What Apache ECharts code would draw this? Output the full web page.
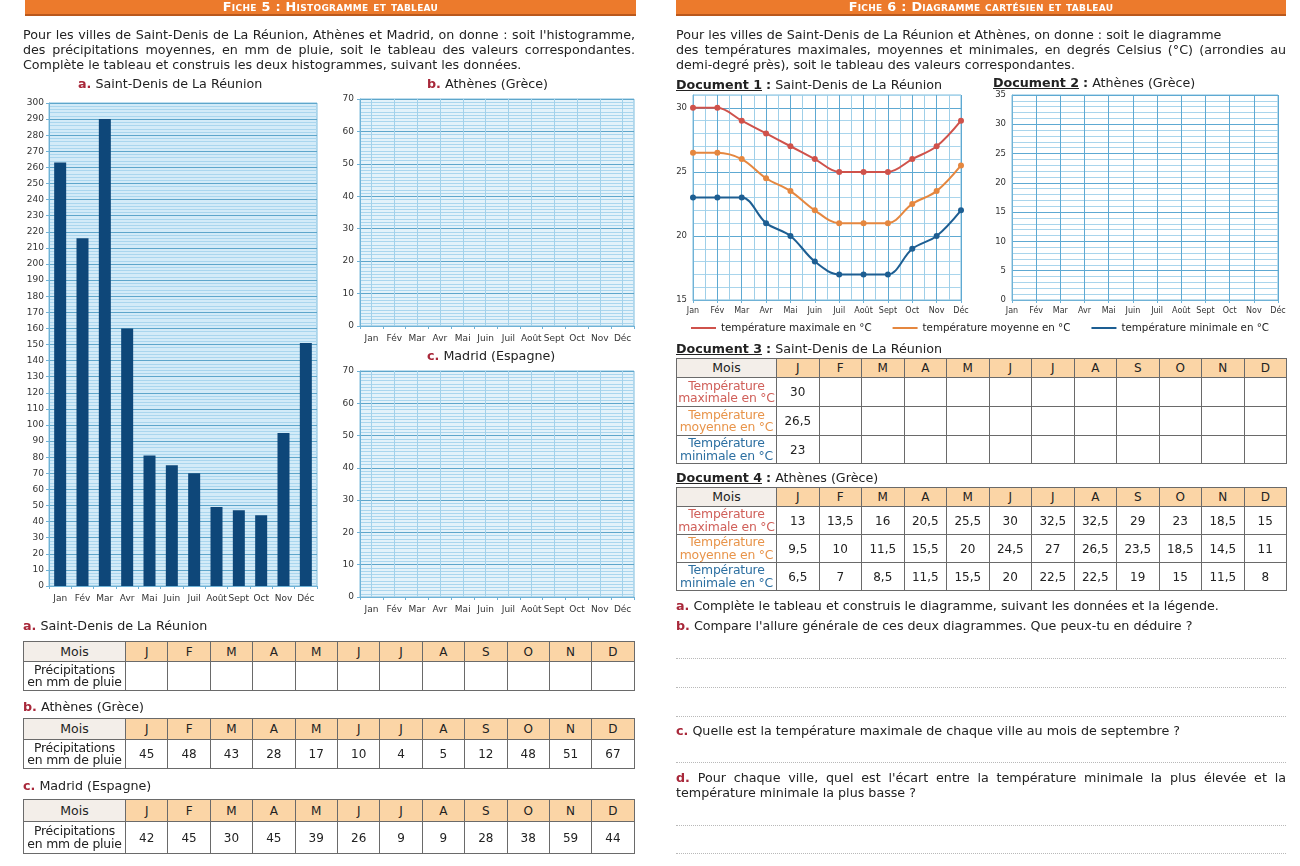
<!DOCTYPE html>
<html lang="fr">
<head>
<meta charset="utf-8">
<script src="https://cdn.jsdelivr.net/npm/echarts@6/dist/echarts.min.js"></script>
<style>
  html,body{margin:0;padding:0;background:#fff;}
  body{width:1300px;height:866px;position:relative;overflow:hidden;font-family:"DejaVu Sans",sans-serif;color:#222;}
  #chart{position:absolute;left:0;top:0;width:1300px;height:866px;}
  .ov{position:absolute;white-space:nowrap;font-size:12.7px;line-height:15px;pointer-events:none;}
  .band{position:absolute;top:0;height:14px;background:#ec7a2c;box-shadow:0 2px 0 #b9581c;color:#fff;font-weight:bold;font-variant:small-caps;font-size:12.8px;line-height:14px;text-align:center;letter-spacing:0.3px;font-family:"DejaVu Sans",sans-serif;}
  .just{text-align:justify;text-align-last:justify;}
  .lt{color:#a8283a;font-weight:bold;}
  .doc{font-weight:bold;text-decoration:underline;}
  table.t{position:absolute;border-collapse:collapse;table-layout:fixed;font-size:12px;font-family:"DejaVu Sans",sans-serif;}
  table.t td{border:1px solid #6a6a6a;text-align:center;vertical-align:middle;padding:0;line-height:12px;color:#222;}
  table.t td.h{background:#fbd5a6;}
  table.t td.m{background:#f3eee9;font-size:12.5px;}
  table.t td.lab{background:#fff;font-size:12.4px;line-height:12.5px;letter-spacing:-0.2px;overflow:hidden;white-space:nowrap;}
  .dots{position:absolute;height:0;border-top:1px dotted #b9b9b9;}
</style>
</head>
<body>
<div id="chart"></div>
<div id="overlay"></div>
<script>
// ---------- DATA ----------
const months = ['Jan','Fév','Mar','Avr','Mai','Juin','Juil','Août','Sept','Oct','Nov','Déc'];
const monthLetters = ['J','F','M','A','M','J','J','A','S','O','N','D'];
const rainSaintDenis = [263,216,290,160,81,75,70,49,47,44,95,151];
const rainAthenes = [45,48,43,28,17,10,4,5,12,48,51,67];
const rainMadrid = [42,45,30,45,39,26,9,9,28,38,59,44];
const tMaxSaintDenis = [30,30,29,28,27,26,25,25,25,26,27,29];
const tMoySaintDenis = [26.5,26.5,26,24.5,23.5,22,21,21,21,22.5,23.5,25.5];
const tMinSaintDenis = [23,23,23,21,20,18,17,17,17,19,20,22];
const tMaxAthenes = [13,13.5,16,20.5,25.5,30,32.5,32.5,29,23,18.5,15];
const tMoyAthenes = [9.5,10,11.5,15.5,20,24.5,27,26.5,23.5,18.5,14.5,11];
const tMinAthenes = [6.5,7,8.5,11.5,15.5,20,22.5,22.5,19,15,11.5,8];
const seriesNames = ['température maximale en °C','température moyenne en °C','température minimale en °C'];
const seriesColors = ['#cf524b','#e5873f','#1d5e92'];

// ---------- CHART ----------
const FONT = 'DejaVu Sans';
const lab = (extra) => Object.assign({fontFamily:FONT,fontSize:9,color:'#333'}, extra||{});
const MAJ = '#5ea6cb', MIN = '#aad6ee';
const hiddenAx = {axisLine:{show:false},axisTick:{show:false},axisLabel:{show:false}};

function catAxis(grid, extra){
  return Object.assign({type:'category',gridIndex:grid,data:months,boundaryGap:true,
    axisLine:{lineStyle:{color:'#6fb2d6'}},axisTick:{show:true,length:3,lineStyle:{color:'#6fb2d6'}},
    axisLabel:lab({margin:8,interval:0}),splitLine:{show:false}}, extra||{});
}
const option = {
  animation:false,
  textStyle:{fontFamily:FONT},
  grid:[
    {left:49,top:103,width:268,height:483,show:true,backgroundColor:'#d3ebf8',borderColor:'#7fbcdc',borderWidth:1},
    {left:360,top:99,width:274,height:227,show:true,backgroundColor:'#e3f2fa',borderColor:'#7fbcdc',borderWidth:1},
    {left:360,top:371,width:274,height:226,show:true,backgroundColor:'#e3f2fa',borderColor:'#7fbcdc',borderWidth:1},
    {left:693,top:95,width:268,height:205,show:true,backgroundColor:'#fff',borderColor:'#7fbcdc',borderWidth:1},
    {left:1012,top:95,width:266,height:205,show:true,backgroundColor:'#fff',borderColor:'#7fbcdc',borderWidth:1}
  ],
  xAxis:[
    catAxis(0),
    catAxis(1),
    Object.assign({type:'value',gridIndex:1,min:0,max:24,interval:1,position:'top',
      splitLine:{show:true,lineStyle:{color:['rgba(0,0,0,0)','#a2d1ea'],width:1}}},hiddenAx),
    catAxis(2),
    Object.assign({type:'value',gridIndex:2,min:0,max:24,interval:1,position:'top',
      splitLine:{show:true,lineStyle:{color:['rgba(0,0,0,0)','#a2d1ea'],width:1}}},hiddenAx),
    catAxis(3,{boundaryGap:false,axisLabel:lab({margin:7,fontSize:8}),splitLine:{show:true,lineStyle:{color:'#5ea9d2'}}}),
    Object.assign({type:'value',gridIndex:3,min:0,max:22,interval:1,position:'top',
      splitLine:{show:true,lineStyle:{color:['rgba(0,0,0,0)','#9fcfe8'],width:1}}},hiddenAx),
    catAxis(4,{boundaryGap:false,axisLabel:lab({margin:7,fontSize:8}),splitLine:{show:true,lineStyle:{color:'#5ea9d2'}}})
  ],
  yAxis:[
    {type:'value',gridIndex:0,min:0,max:300,interval:10,axisLine:{show:true,lineStyle:{color:'#6fb2d6'}},
      axisTick:{show:true,length:3,lineStyle:{color:'#6fb2d6'}},axisLabel:lab({margin:5}),
      splitLine:{lineStyle:{color:MAJ}},minorTick:{show:false,splitNumber:5},minorSplitLine:{show:true,lineStyle:{color:MIN}}},
    {type:'value',gridIndex:1,min:0,max:70,interval:10,axisLine:{show:true,lineStyle:{color:'#6fb2d6'}},
      axisTick:{show:true,length:3,lineStyle:{color:'#6fb2d6'}},axisLabel:lab({margin:6}),
      splitLine:{lineStyle:{color:MAJ}},minorTick:{show:false,splitNumber:10},minorSplitLine:{show:true,lineStyle:{color:MIN}}},
    {type:'value',gridIndex:2,min:0,max:70,interval:10,axisLine:{show:true,lineStyle:{color:'#6fb2d6'}},
      axisTick:{show:true,length:3,lineStyle:{color:'#6fb2d6'}},axisLabel:lab({margin:6}),
      splitLine:{lineStyle:{color:MAJ}},minorTick:{show:false,splitNumber:10},minorSplitLine:{show:true,lineStyle:{color:MIN}}},
    {type:'value',gridIndex:3,min:15,max:31,interval:1,axisLine:{show:true,lineStyle:{color:'#6fb2d6'}},
      axisTick:{show:false},axisLabel:lab({margin:6,fontSize:8.5,formatter:v=>v%5===0?String(v):''}),
      splitLine:{lineStyle:{color:['#5ea9d2','#a9d5ec','#a9d5ec','#a9d5ec','#a9d5ec']}}},
    {type:'value',gridIndex:4,min:0,max:35,interval:1,axisLine:{show:true,lineStyle:{color:'#6fb2d6'}},
      axisTick:{show:false},axisLabel:lab({margin:6,fontSize:8.5,formatter:v=>v%5===0?String(v):''}),
      splitLine:{lineStyle:{color:['#5ea9d2','#a9d5ec','#a9d5ec','#a9d5ec','#a9d5ec']}}}
  ],
  legend:{left:686,top:318,icon:'rect',itemWidth:25,itemHeight:2,itemGap:21,
    textStyle:{fontFamily:FONT,fontSize:10.3,color:'#222'},data:seriesNames},
  series:[
    {type:'bar',xAxisIndex:0,yAxisIndex:0,data:rainSaintDenis,barWidth:12,itemStyle:{color:'#0e4779'}},
    ...[tMaxSaintDenis,tMoySaintDenis,tMinSaintDenis].map((d,i)=>({
      type:'line',name:seriesNames[i],xAxisIndex:5,yAxisIndex:3,data:d,smooth:0.35,
      symbol:'circle',symbolSize:6,lineStyle:{width:2,color:seriesColors[i]},itemStyle:{color:seriesColors[i]}
    }))
  ]
};
echarts.init(document.getElementById('chart'),null,{renderer:'canvas'}).setOption(option);

// ---------- TEXT & TABLES ----------
const ov = document.getElementById('overlay');
function add(html){ov.insertAdjacentHTML('beforeend',html);}
const fr = v => String(v).replace('.',',');

add('<div class="band" style="left:25px;width:611px;">Fiche 5 : Histogramme et tableau</div>');
add('<div class="band" style="left:676px;width:610px;">Fiche 6 : Diagramme cartésien et tableau</div>');

add('<div class="ov just" style="left:23px;top:27px;width:612px;">Pour les villes de Saint-Denis de La Réunion, Athènes et Madrid, on donne : soit l\'histogramme,</div>');
add('<div class="ov just" style="left:23px;top:42px;width:612px;">des précipitations moyennes, en mm de pluie, soit le tableau des valeurs correspondantes.</div>');
add('<div class="ov" style="left:23px;top:57px;">Complète le tableau et construis les deux histogrammes, suivant les données.</div>');

add('<div class="ov" style="left:676px;top:27px;">Pour les villes de Saint-Denis de La Réunion et Athènes, on donne : soit le diagramme</div>');
add('<div class="ov just" style="left:676px;top:42px;width:610px;">des températures maximales, moyennes et minimales, en degrés Celsius (°C) (arrondies au</div>');
add('<div class="ov" style="left:676px;top:57px;">demi-degré près), soit le tableau des valeurs correspondantes.</div>');

add('<div class="ov" style="left:78px;top:76px;"><span class="lt">a.</span> Saint-Denis de La Réunion</div>');
add('<div class="ov" style="left:427px;top:76px;"><span class="lt">b.</span> Athènes (Grèce)</div>');
add('<div class="ov" style="left:427px;top:348px;"><span class="lt">c.</span> Madrid (Espagne)</div>');

add('<div class="ov" style="left:676px;top:77px;"><span class="doc">Document 1</span> <b>:</b> Saint-Denis de La Réunion</div>');
add('<div class="ov" style="left:993px;top:75px;"><span class="doc">Document 2</span> <b>:</b> Athènes (Grèce)</div>');
add('<div class="ov" style="left:676px;top:341px;"><span class="doc">Document 3</span> <b>:</b> Saint-Denis de La Réunion</div>');
add('<div class="ov" style="left:676px;top:470px;"><span class="doc">Document 4</span> <b>:</b> Athènes (Grèce)</div>');

function table(left, top, firstW, colW, heights, rows){
  let h = `<table class="t" style="left:${left}px;top:${top}px;width:${firstW+12*colW}px;"><colgroup><col style="width:${firstW}px">`;
  for(let i=0;i<12;i++) h += `<col style="width:${colW}px">`;
  h += '</colgroup><tr style="height:'+heights[0]+'px"><td class="m">Mois</td>';
  monthLetters.forEach(l=>{h += `<td class="h">${l}</td>`;});
  h += '</tr>';
  rows.forEach((r,ri)=>{
    h += `<tr style="height:${heights[ri+1]}px"><td class="lab" style="color:${r.color||'#222'}">${r.label}</td>`;
    for(let i=0;i<12;i++){const v=r.values[i]; h += `<td>${v===null||v===undefined?'':fr(v)}</td>`;}
    h += '</tr>';
  });
  h += '</table>';
  add(h);
}
const precipLabel = 'Précipitations<br>en mm de pluie';
add('<div class="ov" style="left:23px;top:618px;"><span class="lt">a.</span> Saint-Denis de La Réunion</div>');
table(23,641,102,42.4,[20,29],[{label:precipLabel,values:[]}]);
add('<div class="ov" style="left:23px;top:699px;"><span class="lt">b.</span> Athènes (Grèce)</div>');
table(23,718,102,42.4,[21,29],[{label:precipLabel,values:rainAthenes}]);
add('<div class="ov" style="left:23px;top:778px;"><span class="lt">c.</span> Madrid (Espagne)</div>');
table(23,799,102,42.4,[22,32],[{label:precipLabel,values:rainMadrid}]);

const rowLabels = ['Température<br>maximale en °C','Température<br>moyenne en °C','Température<br>minimale en °C'];
const rowColors = ['#d0605a','#e8944a','#2c6fa1'];
table(676,358,100,42.5,[19,29,29,28],[
  {label:rowLabels[0],color:rowColors[0],values:[tMaxSaintDenis[0]]},
  {label:rowLabels[1],color:rowColors[1],values:[tMoySaintDenis[0]]},
  {label:rowLabels[2],color:rowColors[2],values:[tMinSaintDenis[0]]}
]);
table(676,487,100,42.5,[19,28,28,28],[
  {label:rowLabels[0],color:rowColors[0],values:tMaxAthenes},
  {label:rowLabels[1],color:rowColors[1],values:tMoyAthenes},
  {label:rowLabels[2],color:rowColors[2],values:tMinAthenes}
]);

add('<div class="ov" style="left:676px;top:598px;"><span class="lt">a.</span> Complète le tableau et construis le diagramme, suivant les données et la légende.</div>');
add('<div class="ov" style="left:676px;top:618px;"><span class="lt">b.</span> Compare l\'allure générale de ces deux diagrammes. Que peux-tu en déduire ?</div>');
add('<div class="ov" style="left:676px;top:723px;"><span class="lt">c.</span> Quelle est la température maximale de chaque ville au mois de septembre ?</div>');
add('<div class="ov just" style="left:676px;top:770px;width:610px;"><span class="lt">d.</span> Pour chaque ville, quel est l\'écart entre la température minimale la plus élevée et la</div>');
add('<div class="ov" style="left:676px;top:785px;">température minimale la plus basse ?</div>');
[658,687,716,762,825,853].forEach(y=>add(`<div class="dots" style="left:676px;top:${y}px;width:610px;"></div>`));
</script>
</body>
</html>
